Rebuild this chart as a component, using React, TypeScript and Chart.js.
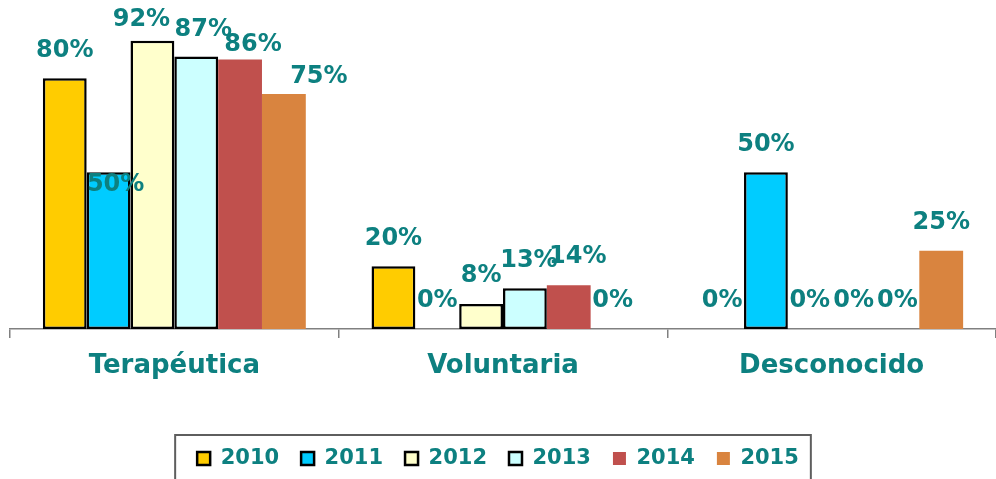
import React, { useEffect, useRef } from "react";
import { Chart, registerables } from "chart.js";

Chart.register(...registerables);

const categories = ["Terapéutica", "Voluntaria", "Desconocido"];
const years = ["2010", "2011", "2012", "2013", "2014", "2015"];
const v2010 = [80, 20, 0];
const v2011 = [50, 0, 50];
const v2012 = [92, 8, 0];
const v2013 = [87, 13, 0];
const v2014 = [86, 14, 0];
const v2015 = [75, 0, 25];

const seriesValues = [v2010, v2011, v2012, v2013, v2014, v2015];
const fills = ["#FFCC00", "#00CCFF", "#FFFFCC", "#CCFFFF", "#C0504D", "#D9843F"];
const borders = [2.5, 2.5, 2.5, 2.5, 0, 0];

const TEAL = "#0D8080";
const FONT = "'DejaVu Sans', sans-serif";

// label nudges (styling): key = category-dataset -> [dx, dy]
const LABEL_NUDGE: Record<string, [number, number]> = {
  "0-1": [7, 40],
  "0-2": [-11, 7],
  "0-3": [7, 1],
  "0-4": [13, 13],
  "0-5": [35, 11],
  "1-3": [4, 0],
  "1-4": [9, 0],
};

const dataLabels = {
  id: "dataLabels",
  afterDatasetsDraw(chart: any) {
    const ctx = chart.ctx;
    ctx.save();
    ctx.font = `bold 24px ${FONT}`;
    ctx.fillStyle = TEAL;
    ctx.textAlign = "center";
    ctx.textBaseline = "middle";
    chart.data.datasets.forEach((ds: any, i: number) => {
      const meta = chart.getDatasetMeta(i);
      meta.data.forEach((el: any, j: number) => {
        const nudge = LABEL_NUDGE[`${j}-${i}`] || [0, 0];
        ctx.fillText(`${ds.data[j]}%`, el.x + nudge[0], el.y - 28 + nudge[1]);
      });
    });
    ctx.restore();
  },
};

const legendFrame = {
  id: "legendFrame",
  afterDraw(chart: any) {
    const lg = chart.legend;
    if (!lg || !lg.legendHitBoxes || !lg.legendHitBoxes.length) return;
    const hb = lg.legendHitBoxes;
    const first = hb[0];
    const last = hb[hb.length - 1];
    const ctx = chart.ctx;
    ctx.save();
    ctx.strokeStyle = "#5e5e5e";
    ctx.lineWidth = 2;
    const left = first.left - 22;
    const right = last.left + last.width + 12;
    const top = lg.top + 9;
    ctx.strokeRect(left, top, right - left, 60);
    ctx.restore();
  },
};

export default function App() {
  const ref = useRef<HTMLCanvasElement | null>(null);
  useEffect(() => {
    if (!ref.current) return;
    const chart = new Chart(ref.current, {
      type: "bar",
      data: {
        labels: categories,
        datasets: years.map((y, i) => ({
          label: y,
          data: seriesValues[i],
          backgroundColor: fills[i],
          borderColor: "#000000",
          borderWidth: borders[i],
          borderSkipped: false,
          categoryPercentage: 0.8,
          barPercentage: 1.0,
        })),
      },
      options: {
        responsive: false,
        animation: false,
        devicePixelRatio: 1,
        layout: { padding: { left: 0, right: 0, top: 0, bottom: 0 } },
        plugins: {
          tooltip: { enabled: false },
          legend: {
            position: "bottom",
            labels: {
              boxWidth: 13,
              boxHeight: 13,
              padding: 22,
              color: TEAL,
              font: { family: FONT, size: 21, weight: "bold" },
            },
          },
        },
        scales: {
          y: {
            display: true,
            min: 0,
            max: 105,
            afterFit: (scale: any) => {
              scale.width = 10;
            },
            grid: { display: false, drawTicks: false },
            border: { display: false },
            ticks: { display: false },
          },
          x: {
            afterFit: (scale: any) => {
              scale.height = 97;
            },
            border: { display: true, color: "#808080", width: 1.5 },
            grid: {
              offset: true,
              drawOnChartArea: false,
              drawTicks: true,
              tickLength: 9,
              color: "#808080",
              lineWidth: 1.5,
            },
            ticks: {
              color: TEAL,
              padding: 13,
              font: { family: FONT, size: 26, weight: "bold" },
            },
          },
        },
      } as any,
      plugins: [dataLabels, legendFrame],
    });
    return () => chart.destroy();
  }, []);
  return (
    <div style={{ position: "absolute", left: 0, top: 0, width: 996, height: 479, background: "#fff" }}>
      <canvas ref={ref} width={996} height={479} style={{ display: "block" }} />
    </div>
  );
}
